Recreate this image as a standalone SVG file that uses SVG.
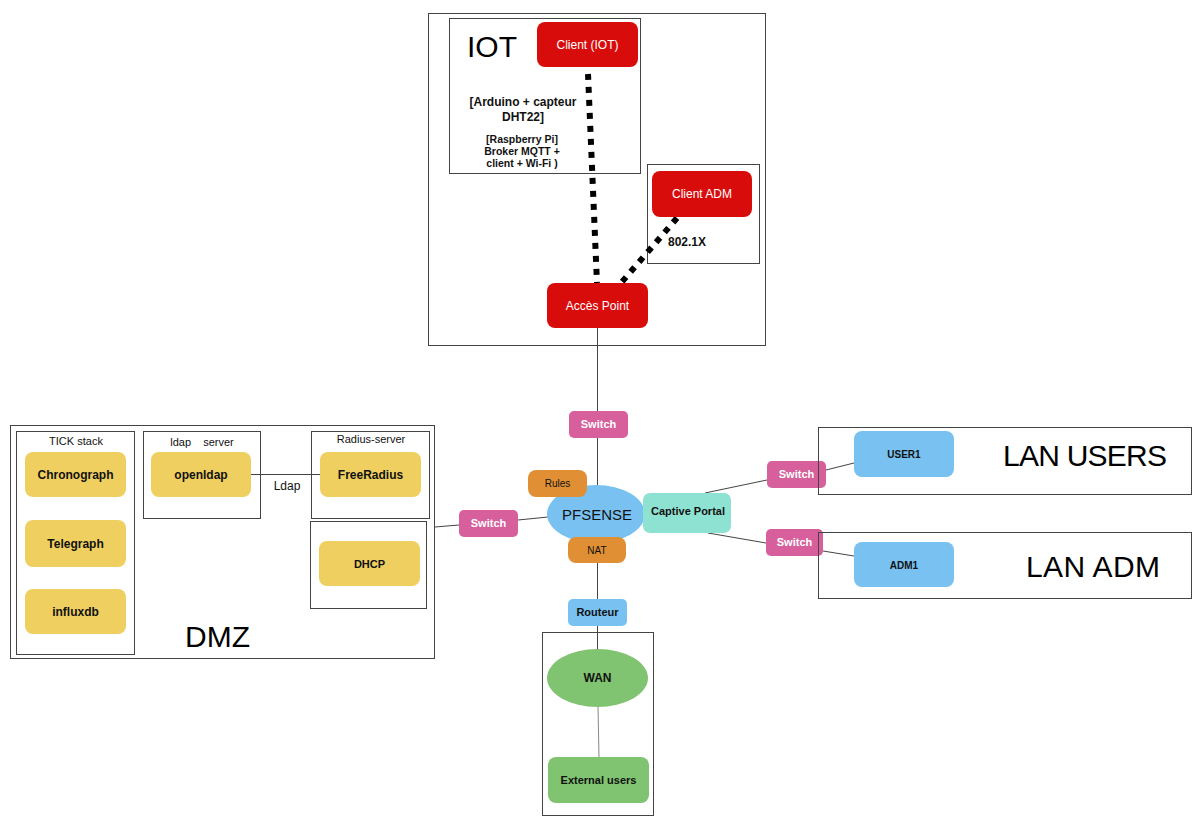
<svg xmlns="http://www.w3.org/2000/svg" width="1202" height="830" viewBox="0 0 1202 830">
<style>
text{font-family:"Liberation Sans",Arial,sans-serif;}
.box{fill:none;stroke:#444;stroke-width:1}
.red{fill:#d90c0c}
.pink{fill:#d65f9c}
.blue{fill:#78c1f1}
.yel{fill:#efcf5f}
.org{fill:#e08f35}
.teal{fill:#8ee2d1}
.grn{fill:#80c370}
.wt{fill:#fff;font-size:12px;text-anchor:middle}
.sw{fill:#fff;font-size:11px;font-weight:bold;text-anchor:middle}
.bk{fill:#111;font-size:12px;font-weight:bold;text-anchor:middle}
.lbl{fill:#111;font-size:11px;text-anchor:middle}
.big{fill:#000;font-size:30px}
.ln{stroke:#444;stroke-width:1;fill:none}
.dot{stroke:#000;stroke-width:6;stroke-dasharray:6 7;fill:none}
</style>
<rect width="1202" height="830" fill="#fff"/>

<g id="iot-zone">
<rect class="box" x="428.5" y="13.5" width="337" height="332"/>
<rect class="box" x="449.5" y="18.5" width="191" height="155"/>
<text class="big" x="467" y="57">IOT</text>
<text class="bk" x="523" y="106">[Arduino + capteur</text>
<text class="bk" x="523" y="121">DHT22]</text>
<text class="bk" x="522" y="143" style="font-size:10.5px">[Raspberry Pi]</text>
<text class="bk" x="522" y="155" style="font-size:10.5px">Broker MQTT +</text>
<text class="bk" x="522" y="167" style="font-size:10.5px">client + Wi-Fi )</text>
<rect class="box" x="647.5" y="164.5" width="112" height="99"/>
<text class="bk" x="687" y="246">802.1X</text>
</g>

<g id="connectors">
<line class="dot" x1="588" y1="74" x2="597" y2="283"/>
<line class="dot" x1="677" y1="218" x2="621" y2="283"/>
<line class="ln" x1="597.5" y1="328" x2="597.5" y2="411"/>
<line class="ln" x1="597.5" y1="438" x2="597.5" y2="485"/>
<line class="ln" x1="518" y1="520" x2="548" y2="517"/>
<line class="ln" x1="435" y1="527" x2="459" y2="525"/>
<line class="ln" x1="597.5" y1="563" x2="597.5" y2="599"/>
<line class="ln" x1="597.5" y1="626" x2="597.5" y2="650"/>
<line class="ln" x1="598" y1="707" x2="599" y2="757" style="stroke:#888"/>
<line class="ln" x1="705" y1="493" x2="767" y2="480"/>
<line class="ln" x1="708" y1="533" x2="766" y2="543"/>
<line class="ln" x1="826" y1="470" x2="854" y2="463"/>
<line class="ln" x1="823" y1="551" x2="854" y2="556"/>
<line class="ln" x1="251" y1="474.5" x2="320" y2="474.5"/>
</g>

<g id="client-iot"><rect class="red" x="537" y="22" width="101" height="45" rx="8"/><text class="wt" x="587.5" y="49">Client (IOT)</text></g>
<g id="client-adm"><rect class="red" x="652" y="171" width="100" height="46" rx="8"/><text class="wt" x="702" y="198">Client ADM</text></g>
<g id="acces-point"><rect class="red" x="547" y="283" width="101" height="45" rx="8"/><text class="wt" x="597.5" y="310">Accès Point</text></g>

<g id="switch-top"><rect class="pink" x="569" y="411" width="59" height="27" rx="5"/><text class="sw" x="598.5" y="428">Switch</text></g>
<g id="switch-left"><rect class="pink" x="459" y="510" width="59" height="27" rx="5"/><text class="sw" x="488.5" y="527">Switch</text></g>
<g id="switch-users"><rect class="pink" x="767" y="461" width="59" height="27" rx="5"/><text class="sw" x="796.5" y="478">Switch</text></g>
<g id="switch-adm"><rect class="pink" x="766" y="529" width="57" height="27" rx="5"/><text class="sw" x="794.5" y="546">Switch</text></g>

<g id="pfsense"><ellipse class="blue" cx="596" cy="514" rx="49" ry="29"/><text x="597" y="520" style="fill:#111;font-size:15px;text-anchor:middle">PFSENSE</text></g>
<g id="rules"><rect class="org" x="528" y="470" width="59" height="27" rx="8"/><text class="lbl" x="557.5" y="487" style="font-size:10px">Rules</text></g>
<g id="nat"><rect class="org" x="568" y="537" width="58" height="26" rx="8"/><text class="lbl" x="597" y="554" style="font-size:10px">NAT</text></g>
<g id="captive-portal"><rect class="teal" x="643" y="493" width="88" height="40" rx="7"/><text class="bk" x="688" y="515" style="font-size:11px">Captive Portal</text></g>
<g id="routeur"><rect class="blue" x="568" y="599" width="59" height="27" rx="5"/><text class="bk" x="597.5" y="616" style="font-size:11px">Routeur</text></g>

<g id="wan-zone">
<rect class="box" x="542.5" y="632.5" width="111" height="183"/>
</g>
<g id="wan"><ellipse class="grn" cx="597.5" cy="678" rx="50.5" ry="29"/><text class="bk" x="597.5" y="682">WAN</text></g>
<g id="external-users"><rect class="grn" x="548" y="757" width="101" height="46" rx="8"/><text class="bk" x="598.5" y="784" style="font-size:11px">External users</text></g>

<g id="lan-users-zone">
<rect class="box" x="818.5" y="427.5" width="373" height="67"/>
<text class="big" x="1003" y="466" textLength="164">LAN USERS</text>
</g>
<g id="user1"><rect class="blue" x="854" y="431" width="100" height="46" rx="8"/><text class="bk" x="904" y="458" style="font-size:10px">USER1</text></g>
<g id="lan-adm-zone">
<rect class="box" x="818.5" y="532.5" width="373" height="66"/>
<text class="big" x="1026" y="577" textLength="134">LAN ADM</text>
</g>
<g id="adm1"><rect class="blue" x="854" y="542" width="100" height="45" rx="8"/><text class="bk" x="904" y="569" style="font-size:10px">ADM1</text></g>

<g id="dmz-zone">
<rect class="box" x="10.5" y="425.5" width="424" height="233"/>
<rect class="box" x="16.5" y="431.5" width="118" height="223"/>
<text class="lbl" x="76" y="445">TICK stack</text>
<rect class="box" x="143.5" y="431.5" width="117" height="87"/>
<text class="lbl" x="202" y="446" style="white-space:pre" xml:space="preserve">ldap    server</text>
<rect class="box" x="311.5" y="431.5" width="118" height="87"/>
<text class="lbl" x="371" y="443">Radius-server</text>
<rect class="box" x="310.5" y="521.5" width="116" height="87"/>
<text class="lbl" x="287" y="490" style="font-size:12px">Ldap</text>
<text class="big" x="185" y="647">DMZ</text>
</g>
<g id="chronograph"><rect class="yel" x="25" y="452" width="101" height="45" rx="8"/><text class="bk" x="75.5" y="479">Chronograph</text></g>
<g id="telegraph"><rect class="yel" x="25" y="520" width="101" height="47" rx="8"/><text class="bk" x="75.5" y="548">Telegraph</text></g>
<g id="influxdb"><rect class="yel" x="25" y="589" width="101" height="45" rx="8"/><text class="bk" x="75.5" y="616">influxdb</text></g>
<g id="openldap"><rect class="yel" x="151" y="452" width="100" height="45" rx="8"/><text class="bk" x="201" y="479">openldap</text></g>
<g id="freeradius"><rect class="yel" x="320" y="452" width="101" height="45" rx="8"/><text class="bk" x="370.5" y="479">FreeRadius</text></g>
<g id="dhcp"><rect class="yel" x="319" y="541" width="101" height="45" rx="8"/><text class="bk" x="369.5" y="568" style="font-size:11px">DHCP</text></g>
</svg>
